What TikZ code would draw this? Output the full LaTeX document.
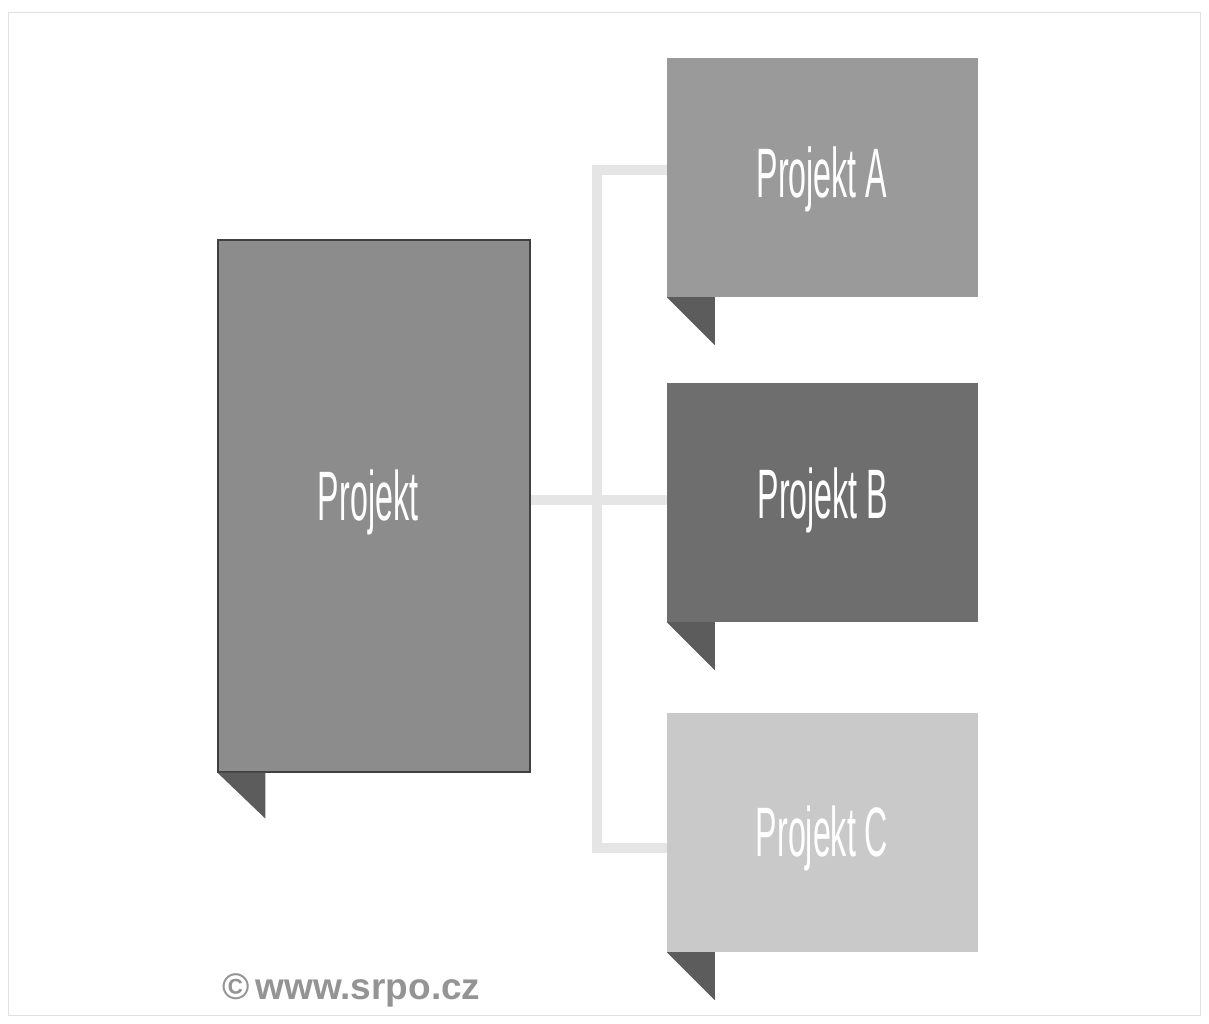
\documentclass[tikz,border=0pt]{standalone}
\usepackage{fontspec}
\newfontfamily\condfont[FakeStretch=0.46]{Liberation Sans}
\newfontfamily\markfont{Liberation Sans}
\definecolor{cmain}{HTML}{8C8C8C}
\definecolor{ca}{HTML}{9A9A9A}
\definecolor{cb}{HTML}{6E6E6E}
\definecolor{cc}{HTML}{C9C9C9}
\definecolor{cfold}{HTML}{5C5C5C}
\definecolor{cline}{HTML}{E5E5E5}
\begin{document}
\begin{tikzpicture}[x=1pt,y=-1pt,
  box/.style={rectangle, inner sep=0pt, text=white, font=\condfont\fontsize{70}{70}\selectfont},
  conn/.style={draw=cline, line width=10pt},
  fold/.style={fill=cfold}]
\useasboundingbox (0,0) rectangle (1209,1023);
\fill[white] (0,0) rectangle (1209,1023);
\draw[black!12, line width=1pt] (8,12) rectangle (1200,1015);
% connectors
\coordinate (top) at (597,170);
\coordinate (bot) at (597,848);
\coordinate (mid) at (597,500);
\draw[conn] (top) -- (bot);
\draw[conn] (530,500) -- (667,500);
\draw[conn] (592,170) -- (667,170);
\draw[conn] (592,848) -- (667,848);
% boxes
\node[box, fill=cmain, draw=black!75, line width=1.2pt, minimum width=312pt, minimum height=532pt] (main) at (374,506) {};
\node[font=\condfont\fontsize{70}{70}\selectfont, text=white] (maint) at (368,502) {Projekt};
\node[box, fill=ca, minimum width=311pt, minimum height=239pt] (pa) at (822.5,177.5) {};
\node[box, fill=cb, minimum width=311pt, minimum height=239pt] (pb) at (822.5,502.5) {};
\node[box, fill=cc, minimum width=311pt, minimum height=239pt] (pc) at (822.5,832.5) {};
\node[text=white, font=\condfont\fontsize{70}{70}\selectfont] (ta) at (822,179) {Projekt A};
\node[text=white, font=\condfont\fontsize{70}{70}\selectfont] (tb) at (823,500) {Projekt B};
\node[text=white, font=\condfont\fontsize{70}{70}\selectfont] (tc) at (822,838) {Projekt C};
% folds
\fill[fold] (main.south west) -- ++(48,0) -- ++(0,46) -- cycle;
\fill[fold] (pa.south west) -- ++(48,0) -- ++(0,48) -- cycle;
\fill[fold] (pb.south west) -- ++(48,0) -- ++(0,48) -- cycle;
\fill[fold] (pc.south west) -- ++(48,0) -- ++(0,48) -- cycle;
% watermark
\node[anchor=west, text=black!42, font=\markfont\bfseries\fontsize{37}{37}\selectfont, inner sep=0pt] (wm) at (222,990) {©\,www.srpo.cz};
\end{tikzpicture}
\end{document}
